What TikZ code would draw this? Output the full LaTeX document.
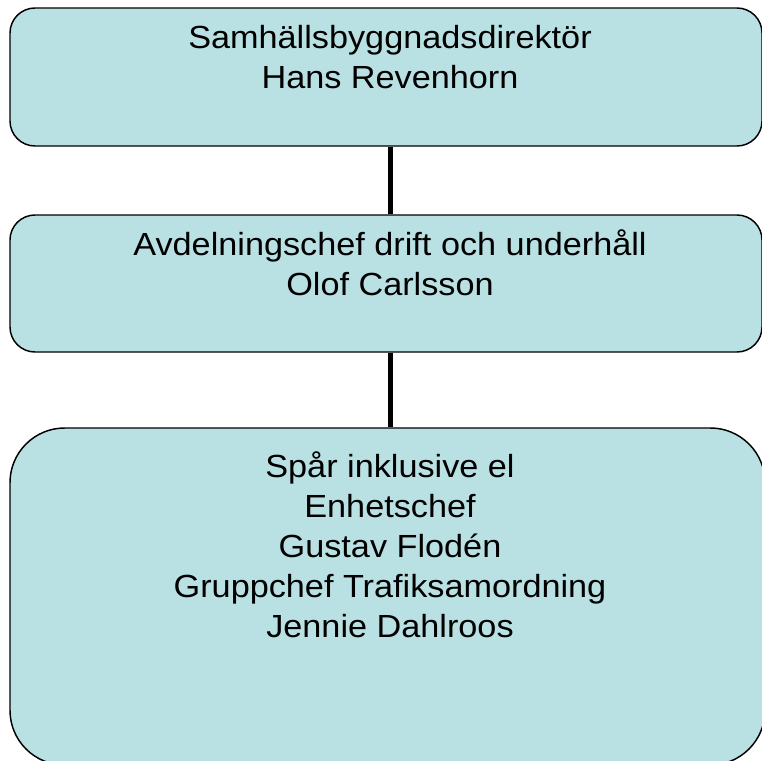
\documentclass[tikz,border=0pt]{standalone}
\usepackage{fontspec}
\setmainfont{Liberation Sans}[FakeStretch=1.07]
\definecolor{boxfill}{RGB}{185,224,227}
\begin{document}
\begin{tikzpicture}[x=0.75pt,y=-0.75pt,
  orgbox/.style={draw=black,fill=boxfill,line width=1.1pt,rectangle,inner sep=0pt},
  orgtext/.style={align=center,inner sep=0pt,anchor=base,font=\fontsize{24pt}{30pt}\selectfont},
  link/.style={draw=black,line width=3.75pt}]
\useasboundingbox (0,0) rectangle (762,760);
\node[orgbox,rounded corners=18.75pt,minimum width=564pt,minimum height=103.5pt] (b1) at (386,77) {};
\node[orgbox,rounded corners=18.75pt,minimum width=564pt,minimum height=102.75pt] (b2) at (386,283.5) {};
\node[orgbox,rounded corners=41pt,minimum width=566.25pt,minimum height=252.75pt] (b3) at (387.5,596.5) {};
\node[orgtext] (t1) at (390,88) {Samhällsbyggnadsdirektör\\Hans Revenhorn};
\node[orgtext] (t2) at (390,295) {Avdelningschef drift och underhåll\\Olof Carlsson};
\node[orgtext] (t3) at (390,637) {Spår inklusive el\\Enhetschef\\Gustav Flodén\\Gruppchef Trafiksamordning\\Jennie Dahlroos};
\draw[link] (b1.south -| t1.base) -- (b2.north -| t1.base);
\draw[link] (b2.south -| t1.base) -- (b3.north -| t1.base);
\end{tikzpicture}
\end{document}
